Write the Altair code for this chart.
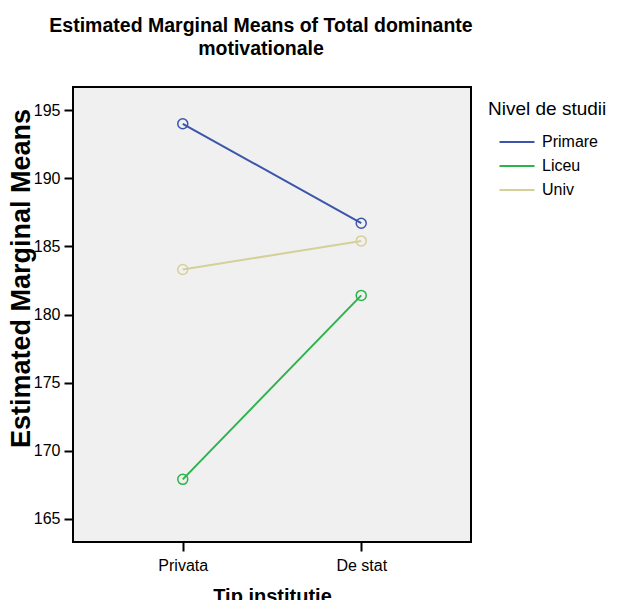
import altair as alt
import pandas as pd

tip = ["Privata", "De stat"]
nivel = ["Primare", "Liceu", "Univ"]
primare = [194.0, 186.7]
liceu = [167.9, 181.4]
univ = [183.3, 185.4]
colors = ["#3B55AA", "#2DB34B", "#D5D099"]
y_ticks = [165, 170, 175, 180, 185, 190, 195]

rows = []
for n, vals in zip(nivel, [primare, liceu, univ]):
    for t, v in zip(tip, vals):
        rows.append({"Tip institutie": t, "Nivel de studii": n, "Mean": v})
df = pd.DataFrame(rows)

FONT = "Liberation Sans, Arial, sans-serif"

x_enc = alt.X(
    "Tip institutie:N",
    scale=alt.Scale(type="point", domain=tip, padding=0.615),
    axis=alt.Axis(
        title="Tip institutie", labelAngle=0, domain=False, grid=False,
        tickColor="black", tickWidth=2, tickSize=9,
        labelFont=FONT, labelFontSize=16, labelColor="black", labelPadding=6,
        titleFont=FONT, titleFontSize=20, titleFontWeight="bold", titleColor="black",
        titleBaseline="top", titleY=44,
    ),
)
y_enc = alt.Y(
    "Mean:Q",
    scale=alt.Scale(domain=[163.3, 196.7], nice=False, zero=False),
    axis=alt.Axis(
        title="Estimated Marginal Means", values=y_ticks, domain=False, grid=False,
        tickColor="black", tickWidth=2, tickSize=9,
        labelFont=FONT, labelFontSize=16, labelColor="black", labelPadding=4,
        titleFont=FONT, titleFontSize=27, titleFontWeight="bold", titleColor="black",
        titleAngle=270, titleBaseline="alphabetic", titleAlign="center",
        titleX=-44, titleY=191,
    ),
)
color_enc = alt.Color(
    "Nivel de studii:N",
    scale=alt.Scale(domain=nivel, range=colors),
    legend=alt.Legend(
        orient="none", legendX=415, legendY=13,
        title="Nivel de studii", titleFont=FONT, titleFontSize=19,
        titleFontWeight="normal", titleColor="black", titlePadding=15,
        labelFont=FONT, labelFontSize=16, labelColor="black",
        symbolType="M-3,0H3", symbolSize=136, symbolStrokeWidth=2,
        symbolOffset=21, labelOffset=17, rowPadding=8,
    ),
)

base = alt.Chart(df).encode(x=x_enc, y=y_enc, color=color_enc, detail="Nivel de studii:N")
lines = base.mark_line(strokeWidth=2)
points = base.mark_point(filled=False, size=100, strokeWidth=1.5, opacity=1)

chart = (
    alt.layer(lines, points)
    .properties(
        width=398, height=455,
        autosize=alt.AutoSizeParams(type="none"),
        padding={"left": 65, "top": 79, "right": 140, "bottom": 58},
        title=alt.TitleParams(
            ["Estimated Marginal Means of Total dominante", "motivationale"],
            font=FONT, fontSize=19.5, fontWeight="bold", color="black",
            anchor="middle", frame="group", dx=-11, offset=28, lineHeight=23,
        ),
    )
    .configure(background="white")
    .configure_view(stroke="black", strokeWidth=2, fill="#F0F0F0")
)

chart.save("out.html", embed_options={"renderer": "svg", "actions": False})
